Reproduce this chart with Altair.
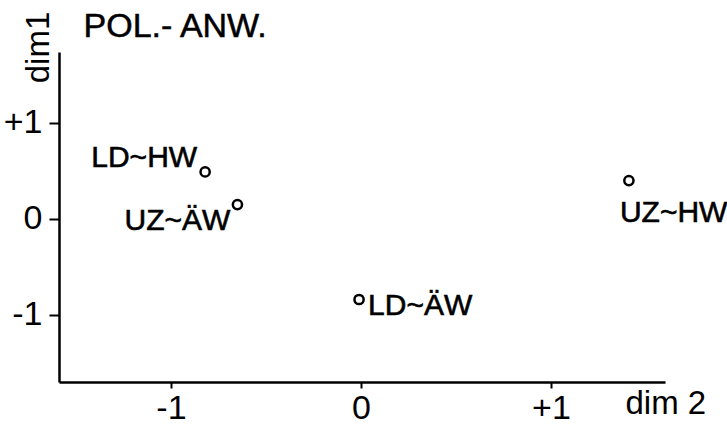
import altair as alt
import pandas as pd

labels = ["LD~HW", "UZ~ÄW", "LD~ÄW", "UZ~HW"]
dim2 = [-0.82, -0.65, -0.01, 1.41]
dim1 = [0.49, 0.15, -0.84, 0.40]
x_ticks = [-1, 0, 1]
y_ticks = [-1, 0, 1]
title_text = ["POL.- ANW."]
title_x = [-1.46]
title_y = [1.896]

FONT = "Liberation Sans"

df = pd.DataFrame({"label": labels, "dim2": dim2, "dim1": dim1})
tdf = pd.DataFrame({"t": title_text, "x": title_x, "y": title_y})

xscale = alt.Scale(domain=[-1.589, 1.6], nice=False, zero=False)
yscale = alt.Scale(domain=[-1.70, 1.74], nice=False, zero=False)

label_expr = "datum.value > 0 ? '+' + datum.value : '' + datum.value"

xenc = alt.X("dim2:Q", scale=xscale, axis=alt.Axis(
    values=x_ticks, labelExpr=label_expr, title="dim 2", grid=False,
    domainColor="black", domainWidth=2.5, tickColor="black", tickWidth=2,
    tickSize=6, labelPadding=3, labelFont=FONT, labelFontSize=34,
    labelColor="black", titleFont=FONT, titleFontSize=33, titleFontWeight="normal",
    titleColor="black", titleX=566, titleY=31, titleAlign="left",
    titleBaseline="alphabetic", titleAngle=0))
yenc = alt.Y("dim1:Q", scale=yscale, axis=alt.Axis(
    values=y_ticks, labelExpr=label_expr, title="dim1", grid=False,
    domainColor="black", domainWidth=2.5, tickColor="black", tickWidth=2,
    tickSize=10, labelPadding=7, labelFont=FONT, labelFontSize=34,
    labelColor="black", titleFont=FONT, titleFontSize=33, titleFontWeight="normal",
    titleColor="black", titleX=-21, titleY=-5, titleAlign="center",
    titleBaseline="middle", titleAngle=270))

base = alt.Chart(df)

points = base.mark_point(shape="circle", filled=False, color="black",
                         strokeWidth=2.5, size=85, opacity=1).encode(x=xenc, y=yenc)

offsets = {
    "LD~HW": ("right", -8, -5),
    "UZ~ÄW": ("right", -7, 25),
    "LD~ÄW": ("left", 9, 15),
    "UZ~HW": ("left", -9, 41),
}

layers = [points]
for lab in labels:
    al, dx, dy = offsets[lab]
    layers.append(
        base.transform_filter(alt.datum.label == lab).mark_text(
            align=al, baseline="alphabetic", dx=dx, dy=dy, font=FONT,
            fontSize=30, color="black", stroke="black", strokeWidth=0.6).encode(
            x=alt.X("dim2:Q", scale=xscale), y=alt.Y("dim1:Q", scale=yscale),
            text="label:N")
    )

title = alt.Chart(tdf).mark_text(align="left", baseline="alphabetic", font=FONT,
                                 fontSize=34, color="black", stroke="black",
                                 strokeWidth=0.5).encode(
    x=alt.X("x:Q", scale=xscale), y=alt.Y("y:Q", scale=yscale), text="t:N")
layers.append(title)

chart = alt.layer(*layers).properties(
    width=606, height=330,
    autosize=alt.AutoSizeParams(type="none"),
    padding={"left": 59, "top": 52, "right": 62, "bottom": 42},
    background="white",
).configure_view(stroke=None)

chart.save("out.html", embed_options={"renderer": "svg", "actions": False})
